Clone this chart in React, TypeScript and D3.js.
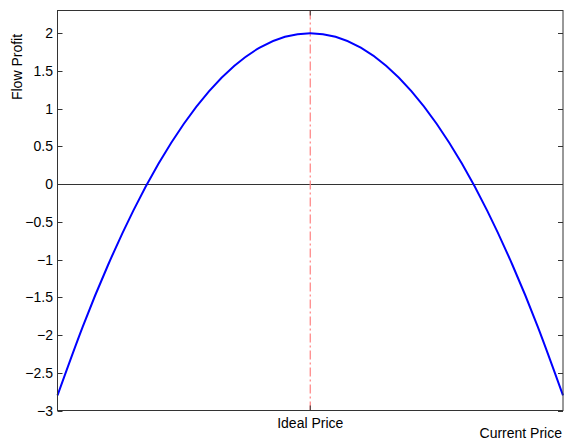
import React from "react";
import * as d3 from "d3";

const priceX = [0, 0.5, 1, 1.5, 2, 2.5, 3, 3.5, 4, 4.5, 5, 5.5, 6, 6.5, 7, 7.5, 8, 8.5, 9, 9.5, 10];
const profitY = [-2.8, -1.888, -1.072, -0.352, 0.272, 0.8, 1.232, 1.568, 1.808, 1.952, 2, 1.952, 1.808, 1.568, 1.232, 0.8, 0.272, -0.352, -1.072, -1.888, -2.8];
const yTicks = [-3, -2.5, -2, -1.5, -1, -0.5, 0, 0.5, 1, 1.5, 2];
const idealPrice = 5;
const xTickLabels = ["Ideal Price"];

export default function App() {
  const W = 564, H = 440;
  const left = 57.5, right = 563, top = 10.5, bottom = 410.5;
  const x = d3.scaleLinear().domain([0, 10]).range([left, right]);
  const y = d3.scaleLinear().domain([-3, 2.3]).range([bottom, top]);
  const pts = priceX.map((v, i) => [v, profitY[i]] as [number, number]);
  const line = d3.line<[number, number]>().x(d => x(d[0])).y(d => y(d[1])).curve(d3.curveNatural);
  const font = "'Liberation Sans', Arial, Helvetica, sans-serif";
  const tl = 5;
  return (
    <svg width={W} height={H} style={{ position: "absolute", left: 0, top: 0, background: "#fff" }} fontFamily={font}>
      <rect x={left} y={top} width={right - left} height={bottom - top} fill="#fff" />
      <line x1={left} x2={right} y1={Math.round(y(0)) + 0.5} y2={Math.round(y(0)) + 0.5} stroke="#333" strokeWidth={1} />
      <line x1={x(idealPrice)} x2={x(idealPrice)} y1={top} y2={bottom} stroke="#ff7f7f" strokeWidth={1.2} strokeDasharray="9 3 2 3" />
      <path d={line(pts) || ""} fill="none" stroke="#0000ff" strokeWidth={2} />
      {yTicks.map(t => {
        const yy = Math.round(y(t)) + 0.5;
        return (
          <g key={t}>
            <line x1={left} x2={left + tl} y1={yy} y2={yy} stroke="#333" />
            <line x1={right - tl} x2={right} y1={yy} y2={yy} stroke="#333" />
            <text x={53} y={yy} dy="0.35em" textAnchor="end" fontSize={14} fill="#000">{t < 0 ? "\u2212" + Math.abs(t) : String(t)}</text>
          </g>
        );
      })}
      <line x1={x(idealPrice)} x2={x(idealPrice)} y1={bottom - tl} y2={bottom} stroke="#333" />
      <line x1={x(idealPrice)} x2={x(idealPrice)} y1={top} y2={top + tl} stroke="#333" />
      <rect x={left} y={top} width={right - left} height={bottom - top} fill="none" stroke="#333" strokeWidth={1} />
      <text x={x(idealPrice)} y={428} textAnchor="middle" fontSize={14} fill="#000">{xTickLabels[0]}</text>
      <text x={562} y={438} textAnchor="end" fontSize={14} fill="#000">Current Price</text>
      <text transform={`translate(22, 67) rotate(-90)`} textAnchor="middle" fontSize={14} fill="#000">Flow Profit</text>
    </svg>
  );
}
